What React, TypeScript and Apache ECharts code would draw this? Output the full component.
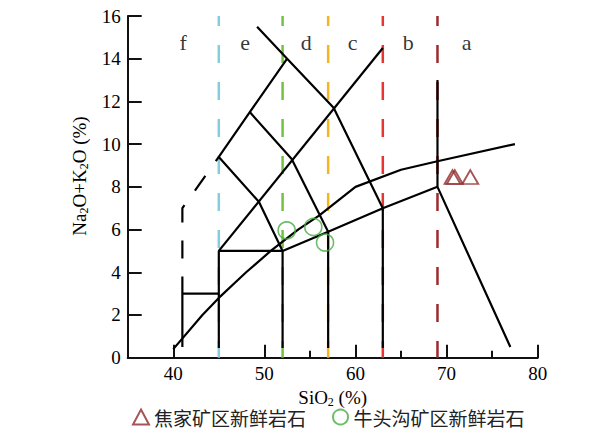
import React, { useEffect, useRef } from "react";
import * as echarts from "echarts";

// ---- axis ticks ----
const xMajorTicks = [40, 50, 60, 70, 80];
const yTicks = [0, 2, 4, 6, 8, 10, 12, 14, 16];

// ---- field labels ----
const fieldNames = ["f", "e", "d", "c", "b", "a"];
const fieldLabelSiO2 = [41.1, 47.9, 54.6, 59.7, 65.8, 72.2];
const fieldLabelAlk = [14.75, 14.75, 14.75, 14.75, 14.75, 14.75];

// ---- coloured dashed reference lines ----
const refLineSiO2 = [45, 52, 57, 63, 69];
const refLineColors = ["#85cddc", "#74c043", "#f3b623", "#e8352f", "#9e2a2d"];
const refLineTop = 16;
const refLineBottom = 0;

// ---- TAS boundaries (SiO2, Na2O+K2O) ----
const foiditeSolid = [[41, 0.5], [41, 3.8]];
const foiditeDashed = [[41, 3.8], [41, 7], [45, 9.4]];
const picrobasaltTop = [[41, 3], [45, 3]];
const basaltLeft = [[45, 0.45], [45, 5], [52, 5]];
const subalkalineTop = [[52, 0.45], [52, 5], [57, 5.9], [63, 7], [69, 8], [77, 0.5]];
const andesiteLeft = [[57, 0.45], [57, 5.9]];
const daciteLeft = [[63, 0.45], [63, 7]];
const trachyteRight = [[69, 8], [69, 13]];
const tephriteDiagonal = [[45, 5], [63, 14.5]];
const tephriteLeft = [[52, 5], [49.4, 7.3], [45, 9.4], [48.4, 11.5], [52.5, 14]];
const phonoTephrite = [[48.4, 11.5], [53, 9.3], [57, 5.9]];
const phonoliteLine = [[49.2, 15.5], [52.5, 14], [57.6, 11.7], [63, 7]];
const alkalineCurve = [
  [40, 0.4], [43.2, 2], [45, 2.8], [48, 4], [50.7, 5], [53.7, 6],
  [56, 6.65], [60, 8], [65, 8.8], [69, 9.2], [77.5, 10],
];

// ---- samples ----
const jiaojiaName = "焦家矿区新鲜岩石";
const jiaojiaSiO2 = [70.65, 70.9, 72.6];
const jiaojiaAlk = [8.46, 8.46, 8.46];
const niutouName = "牛头沟矿区新鲜岩石";
const niutouSiO2 = [52.45, 55.37, 56.66];
const niutouAlk = [5.96, 6.12, 5.39];

const SERIF = "'Liberation Serif', 'Times New Roman', serif";
const CJK = "'Noto Sans CJK SC', sans-serif";

export default function App() {
  const ref = useRef<HTMLDivElement>(null);

  useEffect(() => {
    if (!ref.current) return;
    const chart = echarts.init(ref.current, undefined, { renderer: "svg" });

    const blackLines = [
      foiditeSolid, picrobasaltTop, basaltLeft, subalkalineTop, andesiteLeft,
      daciteLeft, trachyteRight, tephriteDiagonal, tephriteLeft, phonoTephrite,
      phonoliteLine, alkalineCurve,
    ];

    const series: any[] = [];
    refLineSiO2.forEach((x, i) => {
      series.push({
        type: "line",
        data: [[x, refLineTop], [x, refLineBottom]],
        symbol: "none",
        silent: true,
        z: 1,
        lineStyle: { color: refLineColors[i], width: 2.5, type: [18, 19], dashOffset: 8 },
      });
    });
    blackLines.forEach((d) => {
      series.push({
        type: "line",
        data: d,
        symbol: "none",
        silent: true,
        z: 2,
        lineStyle: { color: "#000", width: 2.2 },
      });
    });
    series.push({
      type: "line",
      data: foiditeDashed,
      symbol: "none",
      silent: true,
      z: 2,
      lineStyle: { color: "#000", width: 2.2, type: [18, 18], dashOffset: 18 },
    });
    series.push({
      type: "scatter",
      data: fieldNames.map((n, i) => ({ name: n, value: [fieldLabelSiO2[i], fieldLabelAlk[i]] })),
      symbolSize: 1,
      itemStyle: { color: "transparent" },
      silent: true,
      z: 3,
      label: {
        show: true,
        position: "inside",
        formatter: (p: any) => p.name,
        fontFamily: SERIF,
        fontSize: 22,
        color: "#000",
      },
    });
    series.push({
      name: jiaojiaName,
      type: "scatter",
      data: jiaojiaSiO2.map((x, i) => [x, jiaojiaAlk[i]]),
      symbol: "triangle",
      symbolSize: [16, 14],
      z: 5,
      itemStyle: { color: "transparent", borderColor: "#8e2a2a", borderWidth: 1.8 },
    });
    series.push({
      name: niutouName,
      type: "scatter",
      data: niutouSiO2.map((x, i) => [x, niutouAlk[i]]),
      symbol: "circle",
      symbolSize: 17,
      z: 5,
      itemStyle: { color: "transparent", borderColor: "#4aab43", borderWidth: 1.6 },
    });

    chart.setOption({
      animation: false,
      backgroundColor: "#ffffff",
      grid: { left: 127.7, right: 73.3, top: 16, bottom: 74.3, containLabel: false },
      xAxis: [
        {
          type: "value",
          min: 35,
          max: 80,
          splitNumber: 5,
          position: "bottom",
          axisLine: { show: true, onZero: false, lineStyle: { color: "#111", width: 2 } },
          axisTick: { show: true, inside: true, length: 13, lineStyle: { color: "#111", width: 2 } },
          axisLabel: {
            showMinLabel: false,
            formatter: (v: number) => (xMajorTicks.indexOf(v) >= 0 ? String(v) : ""),
            fontFamily: SERIF,
            fontSize: 19,
            color: "#000",
            margin: 6,
          },
          splitLine: { show: false },
          name: "{n|SiO}{s|2}{n| (%)}",
          nameLocation: "middle",
          nameGap: 22,
          nameTextStyle: {
            rich: {
              n: { fontFamily: SERIF, fontSize: 19, color: "#000", lineHeight: 22 },
              s: { fontFamily: SERIF, fontSize: 12, color: "#000", lineHeight: 12, verticalAlign: "bottom" },
            },
          },
        },
        {
          type: "value",
          min: 35,
          max: 80,
          interval: 5,
          position: "bottom",
          axisLine: { show: false, onZero: false },
          axisTick: { show: true, inside: true, length: 7, lineStyle: { color: "#111", width: 2 } },
          axisLabel: { show: false },
          splitLine: { show: false },
        },
      ],
      yAxis: {
        type: "value",
        min: 0,
        max: 16,
        interval: 2,
        axisLine: { show: true, onZero: false, lineStyle: { color: "#111", width: 2 } },
        axisTick: { show: true, inside: true, length: 14, lineStyle: { color: "#111", width: 2 } },
        axisLabel: {
          formatter: (v: number) => (yTicks.indexOf(v) >= 0 ? String(v) : ""),
          fontFamily: SERIF,
          fontSize: 19,
          color: "#000",
          margin: 7,
        },
        splitLine: { show: false },
      },
      legend: {
        data: [jiaojiaName, niutouName],
        left: 127,
        top: 401,
        itemWidth: 16,
        itemHeight: 15,
        itemGap: 26,
        textStyle: { fontFamily: CJK, fontSize: 19, lineHeight: 22, color: "#222" },
      },
      graphic: [
        {
          type: "text",
          x: 79,
          y: 176,
          rotation: Math.PI / 2,
          style: {
            text: "{n|Na}{s|2}{n|O+K}{s|2}{n|O (%)}",
            align: "center",
            verticalAlign: "middle",
            rich: {
              n: { fontFamily: SERIF, fontSize: 19, fill: "#000", lineHeight: 22 },
              s: { fontFamily: SERIF, fontSize: 12, fill: "#000", lineHeight: 12, verticalAlign: "bottom" },
            },
          },
        },
      ],
      series,
    });

    return () => chart.dispose();
  }, []);

  return (
    <div
      ref={ref}
      style={{ position: "fixed", left: 0, top: 0, width: 611, height: 432 }}
    />
  );
}
